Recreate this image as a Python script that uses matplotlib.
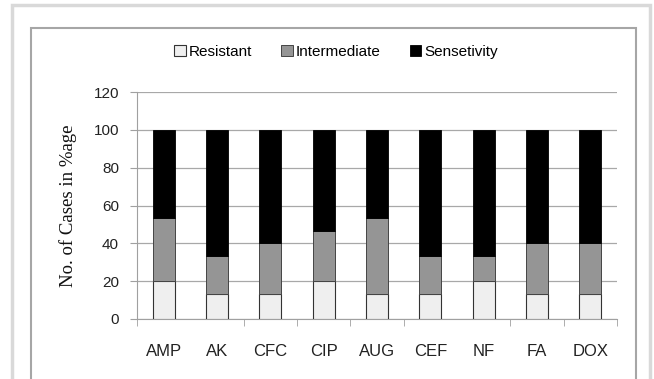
import matplotlib.pyplot as plt
from matplotlib.patches import Rectangle
import numpy as np

drugs = ["AMP", "AK", "CFC", "CIP", "AUG", "CEF", "NF", "FA", "DOX"]
resistant = [20, 13.3, 13.3, 20, 13.3, 13.3, 20, 13.3, 13.3]
intermediate = [33.3, 20, 26.7, 26.7, 40, 20, 13.3, 26.7, 26.7]
sensitivity = [46.7, 66.7, 60, 53.3, 46.7, 66.7, 66.7, 60, 60]
# category boundaries that carry a tick mark in the original
tick_bounds = [0, 2, 3, 4, 5, 7, 8, 9]

plt.rcParams["font.family"] = ["Liberation Sans", "DejaVu Sans"]

W, H = 654, 379
fig = plt.figure(figsize=(W / 100, H / 100), dpi=100)
# outer and inner frames
fig.patches.append(Rectangle((12 / W, -0.05), (650 - 12) / W, 1 - 5 / H + 0.05,
                             transform=fig.transFigure, fill=False,
                             edgecolor="#d9d9d9", linewidth=2.5))
fig.patches.append(Rectangle((31 / W, -0.05), (636 - 31) / W, 1 - 28 / H + 0.05,
                             transform=fig.transFigure, fill=False,
                             edgecolor="#a6a6a6", linewidth=1.5))

ax = fig.add_axes([137 / W, (H - 319) / H, 480 / W, 227 / H])
x = np.arange(len(drugs))
w = 0.41
b1 = np.array(resistant)
b2 = b1 + np.array(intermediate)
ax.bar(x, resistant, w, color="#efefef", edgecolor="#333333", linewidth=0.8,
       label="Resistant", zorder=3)
ax.bar(x, intermediate, w, bottom=b1, color="#959595", edgecolor="#444444",
       linewidth=0.7, label="Intermediate", zorder=3)
ax.bar(x, sensitivity, w, bottom=b2, color="black", edgecolor="black",
       linewidth=0.6, label="Sensetivity", zorder=3)

ax.set_xlim(-0.5, len(drugs) - 0.5)
ax.set_ylim(0, 120)
ax.set_yticks(range(0, 121, 20))
ax.yaxis.grid(True, color="#a8a8a8", linewidth=0.9, zorder=0)
ax.set_xticks(x)
ax.set_xticklabels(drugs, fontsize=12, color="#222222")
ax.set_xticks([b - 0.5 for b in tick_bounds], minor=True)
ax.tick_params(axis="x", which="major", length=0, pad=18)
ax.tick_params(axis="x", which="minor", length=5, color="#a0a0a0")
ax.tick_params(axis="y", length=5, pad=8, color="#a0a0a0", labelsize=11,
               labelcolor="#222222")
for s in ["top", "right"]:
    ax.spines[s].set_visible(False)
ax.spines["left"].set_color("#a0a0a0")
ax.spines["bottom"].set_color("#a0a0a0")

ax.set_ylabel("No. of Cases in %age", family="Liberation Serif", fontsize=13.5,
              labelpad=12, color="#111111")

fig.legend(loc="center", bbox_to_anchor=(336 / W, 1 - 52 / H), ncol=3,
           frameon=False, fontsize=11, handlelength=0.75, handleheight=0.75,
           columnspacing=1.9, handletextpad=0.2)

plt.savefig("out.png", dpi=100)
